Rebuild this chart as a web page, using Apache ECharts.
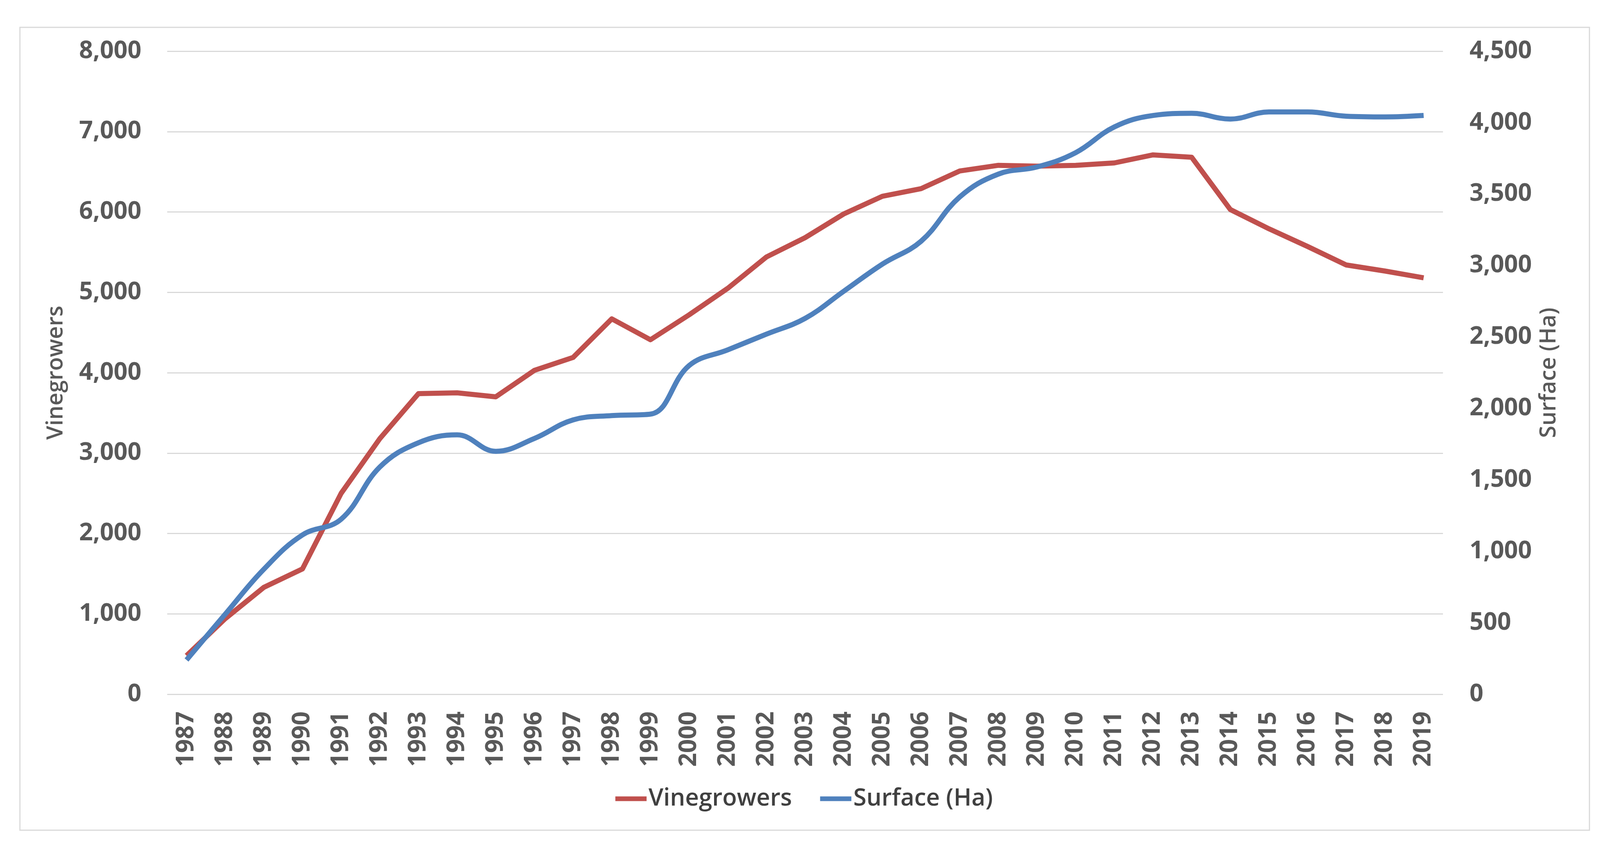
<!DOCTYPE html>
<html>
<head>
<meta charset="utf-8">
<script src="https://cdn.jsdelivr.net/npm/echarts@6/dist/echarts.min.js"></script>
<style>
html,body{margin:0;padding:0;background:#fff;}
#chart{width:4117px;height:2168px;}
</style>
</head>
<body>
<div id="chart"></div>
<script>
const years = ['1987','1988','1989','1990','1991','1992','1993','1994','1995','1996','1997','1998','1999','2000','2001','2002','2003','2004','2005','2006','2007','2008','2009','2010','2011','2012','2013','2014','2015','2016','2017','2018','2019'];
const vinegrowers = [480, 940, 1330, 1560, 2500, 3180, 3740, 3750, 3700, 4030, 4190, 4670, 4410, 4720, 5050, 5440, 5680, 5975, 6195, 6290, 6510, 6580, 6570, 6580, 6610, 6710, 6680, 6030, 5790, 5570, 5340, 5265, 5180];
const surfaceHa = [240, 560, 875, 1115, 1225, 1590, 1760, 1815, 1700, 1790, 1920, 1950, 1960, 2300, 2410, 2520, 2630, 2820, 3010, 3170, 3480, 3640, 3690, 3790, 3970, 4050, 4065, 4025, 4075, 4075, 4045, 4040, 4050];
const seriesNames = ['Vinegrowers', 'Surface (Ha)'];
const leftAxisName = 'Vinegrowers';
const rightAxisName = 'Surface (Ha)';

const FONT = 'Open Sans';
const labelColor = '#595959';
const gridColor = '#d9d9d9';

const chart = echarts.init(document.getElementById('chart'), null, {renderer: 'canvas'});
const fmt = v => v.toLocaleString('en-US');

chart.setOption({
  animation: false,
  backgroundColor: '#ffffff',
  graphic: [{
    type: 'rect',
    shape: {x: 51, y: 70, width: 4018, height: 2055},
    style: {fill: 'none', stroke: gridColor, lineWidth: 3},
    silent: true
  }],
  grid: {left: 428, right: 423, top: 131, bottom: 391, containLabel: false},
  legend: {
    bottom: 88,
    left: 'center',
    itemWidth: 80,
    itemHeight: 12,
    itemGap: 72,
    icon: 'rect',
    textStyle: {fontFamily: FONT, fontSize: 61, color: '#404040', fontWeight: 600},
    data: seriesNames
  },
  xAxis: {
    type: 'category',
    data: years,
    boundaryGap: true,
    axisLine: {show: false},
    axisTick: {show: false},
    axisLabel: {
      rotate: 90,
      margin: 44,
      interval: 0,
      fontFamily: FONT,
      fontSize: 62,
      fontWeight: 'bold',
      color: labelColor
    }
  },
  yAxis: [{
    type: 'value',
    min: 0, max: 8000, interval: 1000,
    name: leftAxisName,
    nameLocation: 'middle',
    nameRotate: 90,
    nameGap: 256,
    nameTextStyle: {fontFamily: FONT, fontSize: 57, fontWeight: 600, color: labelColor},
    axisLine: {show: false},
    axisTick: {show: false},
    splitLine: {lineStyle: {color: gridColor, width: 3}},
    axisLabel: {
      margin: 66,
      formatter: fmt,
      fontFamily: FONT, fontSize: 62, fontWeight: 'bold', color: labelColor
    }
  }, {
    type: 'value',
    min: 0, max: 4500, interval: 500,
    name: rightAxisName,
    nameLocation: 'middle',
    nameRotate: 90,
    nameGap: 243,
    nameTextStyle: {fontFamily: FONT, fontSize: 57, fontWeight: 600, color: labelColor},
    axisLine: {show: false},
    axisTick: {show: false},
    splitLine: {show: false},
    axisLabel: {
      margin: 68,
      formatter: fmt,
      fontFamily: FONT, fontSize: 62, fontWeight: 'bold', color: labelColor
    }
  }],
  series: [{
    name: seriesNames[0],
    type: 'line',
    yAxisIndex: 0,
    data: vinegrowers,
    showSymbol: false,
    symbol: 'circle',
    lineStyle: {color: '#C0504D', width: 13, join: 'round'},
    itemStyle: {color: '#C0504D'},
    z: 2
  }, {
    name: seriesNames[1],
    type: 'line',
    yAxisIndex: 1,
    data: surfaceHa,
    smooth: 0.4,
    showSymbol: false,
    symbol: 'circle',
    lineStyle: {color: '#4F81BD', width: 13},
    itemStyle: {color: '#4F81BD'},
    z: 3
  }]
});
</script>
</body>
</html>
